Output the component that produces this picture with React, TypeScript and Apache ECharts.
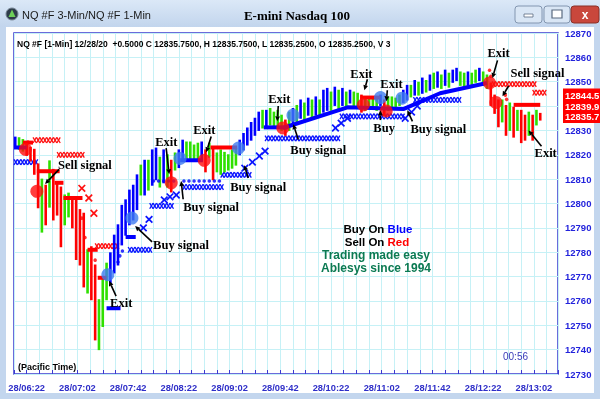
import React, { useEffect, useRef } from 'react';
import * as echarts from 'echarts';

// x values are minutes after 06:12 on 28 Dec 2020
const timeLabels = ['28/06:22', '28/07:02', '28/07:42', '28/08:22', '28/09:02', '28/09:42', '28/10:22', '28/11:02', '28/11:42', '28/12:22', '28/13:02'];
const FIRST_LABEL_MIN = 10;
const LABEL_EVERY_MIN = 40;
const X_MAX = 429;
const Y_MIN = 12730;
const Y_MAX = 12870;

// price bars, one every 3 minutes
const BAR_START = 1;
const BAR_MIN = 3;
const barColor = ('BGGRRRRGRG' + 'RRRGGRRRRG' + 'RRGGGBBBBB' + 'BBBGBGBBGB' + 'GRGBBGGGGB' + 'RGRGGGGGGB' + 'BBBBBGBGGG' + 'GRGBGBGBGB' + 'GBBGBGBGBG' + 'GRGGGGBRGG' + 'GGBBGBGBGB' + 'GBGBGBBGGB' + 'GGBGGRRRGR' + 'GRGRRGRGR').split('');
const barHigh = [
  12827.25, 12827.0, 12826.25, 12824.25, 12823.0, 12822.25, 12816.25, 12810.0, 12807.5, 12817.5,
  12814.0, 12809.0, 12806.75, 12803.5, 12804.25, 12802.75, 12801.5, 12797.5, 12796.0, 12781.0,
  12782.25, 12774.75, 12760.5, 12768.75, 12775.5, 12779.75, 12787.0, 12791.25, 12799.25, 12801.5,
  12805.5, 12807.5, 12811.75, 12815.75, 12817.75, 12817.75, 12822.0, 12822.75, 12819.0, 12822.0,
  12820.0, 12817.75, 12820.75, 12822.0, 12826.0, 12825.25, 12825.25, 12824.0, 12824.75, 12825.25,
  12822.0, 12824.75, 12823.0, 12820.75, 12822.0, 12821.0, 12820.0, 12822.0, 12822.75, 12826.0,
  12828.75, 12831.0, 12833.25, 12835.0, 12837.5, 12838.25, 12838.25, 12839.0, 12837.5, 12838.25,
  12836.25, 12834.25, 12837.5, 12839.0, 12840.25, 12842.5, 12841.25, 12843.25, 12842.5, 12843.75,
  12842.5, 12846.5, 12847.25, 12845.75, 12847.75, 12846.5, 12847.25, 12845.75, 12846.5, 12845.75,
  12845.25, 12844.5, 12843.25, 12843.25, 12843.75, 12843.25, 12844.5, 12842.5, 12843.75, 12843.75,
  12843.25, 12844.5, 12846.5, 12848.5, 12848.5, 12850.5, 12849.75, 12851.5, 12850.5, 12852.75,
  12853.5, 12854.0, 12852.75, 12854.75, 12853.5, 12854.75, 12855.5, 12854.0, 12853.5, 12854.0,
  12853.5, 12854.75, 12855.5, 12854.0, 12852.75, 12849.5, 12844.5, 12842.5, 12842.5, 12840.25,
  12841.25, 12839.5, 12838.25, 12838.25, 12836.25, 12837.5, 12836.25, 12838.25, 12837.0,
];
const barLow = [
  12823.25, 12822.25, 12821.5, 12819.75, 12817.5, 12812.0, 12798.25, 12788.25, 12791.25, 12798.5,
  12793.25, 12795.25, 12782.25, 12791.25, 12794.5, 12790.0, 12777.0, 12774.75, 12765.75, 12763.25,
  12760.5, 12744.0, 12740.0, 12749.5, 12760.5, 12767.5, 12771.5, 12774.75, 12783.0, 12787.0,
  12791.25, 12793.25, 12797.5, 12803.5, 12803.5, 12805.5, 12807.5, 12809.75, 12806.75, 12808.5,
  12806.75, 12804.75, 12813.75, 12814.75, 12817.75, 12817.75, 12818.5, 12817.75, 12817.75, 12817.75,
  12813.0, 12819.0, 12809.75, 12813.0, 12812.0, 12813.0, 12813.75, 12814.5, 12815.75, 12820.0,
  12822.0, 12824.0, 12826.0, 12828.0, 12830.0, 12831.0, 12831.25, 12832.25, 12831.0, 12831.25,
  12830.0, 12828.0, 12830.0, 12832.25, 12833.5, 12835.0, 12834.25, 12836.25, 12835.5, 12836.25,
  12835.5, 12837.5, 12838.25, 12838.25, 12840.25, 12839.0, 12840.25, 12839.5, 12841.25, 12840.25,
  12840.25, 12837.5, 12838.25, 12839.0, 12839.5, 12838.25, 12840.25, 12836.25, 12838.25, 12839.5,
  12839.0, 12840.25, 12841.5, 12842.5, 12843.75, 12844.5, 12844.5, 12845.25, 12845.75, 12846.5,
  12847.25, 12847.75, 12847.25, 12848.5, 12847.75, 12849.75, 12850.5, 12848.5, 12847.25, 12848.5,
  12848.25, 12849.75, 12850.5, 12848.5, 12847.25, 12840.25, 12837.0, 12831.5, 12833.5, 12828.0,
  12830.0, 12827.25, 12830.0, 12825.0, 12826.0, 12828.0, 12826.0, 12832.25, 12834.25,
];

// signal dots [minute, price]
const redSignals = [[9, 12822.25], [18, 12805.0], [124, 12808.5], [150, 12817.75], [212, 12831.0], [275.5, 12840.5], [293.5, 12838.0], [375, 12849.5], [380, 12841.5]];
const blueSignals = [[74, 12770.75], [93, 12794.0], [131, 12818.5], [177, 12822.75], [220, 12836.25], [289, 12843.5], [306, 12843.25]];

// stop levels [fromMinute, toMinute, price]
const blueLevels = [[0, 10, 12823.0], [73, 84, 12757.0], [88, 96, 12786.25], [131, 149, 12817.75], [197, 216, 12831.25]];
const redLevels = [[7, 15, 12825.0], [18, 36, 12813.25], [32, 39, 12808.5], [39, 54, 12802.25], [58, 66, 12781.0], [66, 73, 12769.5], [155, 176, 12823.0], [273, 289, 12843.5], [394, 415, 12840.5]];
const blueBands = [[0, 18, 12817.0], [90, 107, 12781.0], [107, 125, 12799.0], [133, 163, 12806.75], [163, 186, 12811.75], [198, 257, 12826.75], [257, 307, 12835.75], [315, 352, 12842.5]];
const redBands = [[15, 35, 12826.0], [34, 54, 12820.0], [64, 82, 12782.5], [377, 410, 12849.0], [409, 418, 12845.5]];
const blueTrail = [[212, 12831.0], [263, 12839.5], [307, 12838.75], [336, 12845.25], [373, 12849.5]];
const blueCrosses = [[102, 12790.0], [106.5, 12793.5], [118.5, 12801.5], [123, 12802.75], [128, 12803.5], [182, 12814.5], [188, 12817.0], [193.5, 12819.5], [198, 12821.5], [253.5, 12831.0], [258, 12833.0], [263, 12835.0], [308.5, 12835.0], [313.5, 12837.5], [318, 12840.0]];
const redCrosses = [[53.5, 12806.25], [59, 12802.25], [63, 12796.0]];
const blueDots = [[82, 12776.0], [83.5, 12778.5], [85.5, 12780.5], [110, 12809.25], [114, 12809.25], [118, 12809.25], [122, 12809.25], [126, 12809.25], [134, 12809.25], [138, 12809.25], [142, 12809.25], [146, 12809.25], [150, 12809.25], [154, 12809.25], [158, 12809.25], [162, 12809.25]];
const redDots = [[11, 12825.25], [53.5, 12794.0], [56, 12786.0], [64, 12776.75], [375, 12854.75], [376, 12852.25], [387.5, 12844.5], [388.5, 12842.75]];

// annotations: label, text at [minute, price], arrow from [minute, price] to [minute, price]
const noteLabels = ['Sell signal', 'Exit', 'Buy signal', 'Exit', 'Exit', 'Buy signal', 'Buy signal', 'Exit', 'Buy signal', 'Exit', 'Exit', 'Buy', 'Buy signal', 'Exit', 'Sell signal', 'Exit'];
const noteText = [[34.7, 12815.75], [75.8, 12759.25], [109.7, 12783.0], [111.3, 12825.25], [141.3, 12830.0], [133.4, 12798.5], [170.5, 12806.75], [200.5, 12842.75], [217.9, 12822.0], [265.2, 12853.0], [288.9, 12849.0], [283.4, 12831.0], [312.6, 12830.5], [373.4, 12861.75], [391.6, 12853.5], [410.5, 12820.75]];
const noteFrom = [[35.5, 12814.0], [80.5, 12762.0], [108.9, 12784.25], [120.0, 12822.75], [155.5, 12827.5], [133.4, 12801.75], [184.7, 12810.5], [208.4, 12840.0], [224.2, 12826.25], [278.7, 12851.0], [294.4, 12846.5], [288.9, 12834.25], [314.2, 12833.75], [381.3, 12858.75], [390.0, 12848.25], [416.0, 12823.5]];
const noteTo = [[24.5, 12808.0], [75.0, 12768.25], [95.5, 12790.75], [122.4, 12812.0], [151.6, 12821.0], [131.8, 12809.25], [181.6, 12815.75], [207.6, 12833.75], [220.2, 12832.5], [276.3, 12846.5], [293.7, 12842.0], [288.9, 12838.25], [310.2, 12838.25], [377.3, 12851.5], [385.2, 12844.0], [405.8, 12830.0]];

// last prices shown on the price scale (they cover the 12840 scale label)
const lastPrices = [12844.5, 12839.9, 12835.7];
const lastPriceLabels = ['12844.5', '12839.9', '12835.7'];
const hiddenScaleLabels = [12840];

const COLOR: Record<string, string> = { B: '#0000ff', G: '#2fe000', R: '#ff0000' };
const SANS = '"Liberation Sans", Arial, sans-serif';
const SERIF = '"Liberation Serif", "Times New Roman", serif';

const segRender = (color: string, width: number) => (params: any, api: any) => {
  const a = api.coord([api.value(0), api.value(2)]);
  const b = api.coord([api.value(1), api.value(2)]);
  return { type: 'line', shape: { x1: a[0], y1: a[1], x2: b[0], y2: b[1] }, style: { stroke: color, lineWidth: width } };
};

const bandRender = (color: string) => (params: any, api: any) => {
  const a = api.coord([api.value(0), api.value(2)]);
  const b = api.coord([api.value(1), api.value(2)]);
  const h = 2.8;
  const step = 3.4;
  const children: any[] = [];
  for (let x = a[0]; x < b[0] - 0.5; x += step) {
    children.push({ type: 'line', shape: { x1: x, y1: a[1] - h, x2: x + step, y2: a[1] + h }, style: { stroke: color, lineWidth: 1.3 } });
    children.push({ type: 'line', shape: { x1: x, y1: a[1] + h, x2: x + step, y2: a[1] - h }, style: { stroke: color, lineWidth: 1.3 } });
  }
  return { type: 'group', children };
};

const crossRender = (color: string) => (params: any, api: any) => {
  const c = api.coord([api.value(0), api.value(1)]);
  const s = 3.3;
  return {
    type: 'group',
    children: [
      { type: 'line', shape: { x1: c[0] - s, y1: c[1] - s, x2: c[0] + s, y2: c[1] + s }, style: { stroke: color, lineWidth: 1.7 } },
      { type: 'line', shape: { x1: c[0] - s, y1: c[1] + s, x2: c[0] + s, y2: c[1] - s }, style: { stroke: color, lineWidth: 1.7 } },
    ],
  };
};

function buildOption(): any {
  const bars = barHigh.map((h, i) => [BAR_START + i * BAR_MIN, barLow[i], h, i]);
  const notes = noteLabels.map((_, i) => [noteText[i][0], noteText[i][1], noteFrom[i][0], noteFrom[i][1], noteTo[i][0], noteTo[i][1], i]);
  const priceBoxes = lastPrices.map((p, i) => [X_MAX, p, i]);

  const graphic: any[] = [
    { type: 'rect', z: -20, shape: { x: 0, y: 0, width: 600, height: 399 }, style: { fill: '#c3d6ee' } },
    { type: 'rect', z: -19, shape: { x: 6, y: 27, width: 588, height: 366 }, style: { fill: '#ffffff' } },
    {
      type: 'rect', z: -19, shape: { x: 0, y: 0, width: 600, height: 27 },
      style: { fill: new echarts.graphic.LinearGradient(0, 0, 0, 1, [{ offset: 0, color: '#dbe8f7' }, { offset: 1, color: '#c2d5ed' }]) },
    },
    { type: 'circle', z: 5, shape: { cx: 12, cy: 14, r: 6 }, style: { fill: '#2d3b4a', stroke: '#7c8a99', lineWidth: 1 } },
    { type: 'polygon', z: 6, shape: { points: [[12, 9.5], [15.5, 17], [8.5, 17]] }, style: { fill: '#6ecf5a' } },
    { type: 'text', z: 5, x: 22, y: 15, style: { text: 'NQ #F 3-Min/NQ #F 1-Min', font: '11px ' + SANS, fill: '#1a1a1a', verticalAlign: 'middle' } },
    { type: 'text', z: 5, x: 297, y: 15, style: { text: 'E-mini Nasdaq 100', font: 'bold 13px ' + SERIF, fill: '#000', align: 'center', verticalAlign: 'middle' } },
    { type: 'rect', z: 5, shape: { x: 515, y: 6, width: 27, height: 17, r: 3 }, style: { fill: '#d9e6f5', stroke: '#8396b0', lineWidth: 1 } },
    { type: 'rect', z: 6, shape: { x: 524, y: 14, width: 9, height: 3 }, style: { fill: '#ffffff', stroke: '#5a6b80', lineWidth: 0.8 } },
    { type: 'rect', z: 5, shape: { x: 544, y: 6, width: 26, height: 17, r: 3 }, style: { fill: '#d9e6f5', stroke: '#8396b0', lineWidth: 1 } },
    { type: 'rect', z: 6, shape: { x: 552, y: 10, width: 10, height: 8 }, style: { fill: '#ffffff', stroke: '#5a6b80', lineWidth: 1.2 } },
    { type: 'rect', z: 5, shape: { x: 571, y: 6, width: 28, height: 17, r: 3 }, style: { fill: '#c9473c', stroke: '#8a3027', lineWidth: 1 } },
    { type: 'text', z: 6, x: 585, y: 14.5, style: { text: 'x', font: 'bold 12px ' + SANS, fill: '#fff', align: 'center', verticalAlign: 'middle' } },
    { type: 'text', z: 5, x: 17, y: 44, style: { text: 'NQ #F [1-Min] 12/28/20  +0.5000 C 12835.7500, H 12835.7500, L 12835.2500, O 12835.2500, V 3', font: 'bold 8.5px ' + SANS, fill: '#000', verticalAlign: 'middle' } },
    { type: 'text', z: 5, x: 18, y: 367, style: { text: '(Pacific Time)', font: 'bold 9px ' + SANS, fill: '#000', verticalAlign: 'middle' } },
    { type: 'text', z: 5, x: 503, y: 356, style: { text: '00:56', font: '10px ' + SANS, fill: '#3a3ab8', verticalAlign: 'middle' } },
    {
      type: 'text', z: 5, x: 378, y: 229,
      style: { text: '{k|Buy On }{b|Blue}', align: 'center', verticalAlign: 'middle', rich: { k: { font: 'bold 11.5px ' + SANS, fill: '#000' }, b: { font: 'bold 11.5px ' + SANS, fill: '#0000ff' } } },
    },
    {
      type: 'text', z: 5, x: 377, y: 242,
      style: { text: '{k|Sell On }{r|Red}', align: 'center', verticalAlign: 'middle', rich: { k: { font: 'bold 11.5px ' + SANS, fill: '#000' }, r: { font: 'bold 11.5px ' + SANS, fill: '#ff0000' } } },
    },
    { type: 'text', z: 5, x: 376, y: 255, style: { text: 'Trading made easy', font: 'bold 12px ' + SANS, fill: '#0b7a52', align: 'center', verticalAlign: 'middle' } },
    { type: 'text', z: 5, x: 376, y: 268, style: { text: 'Ablesys since 1994', font: 'bold 12px ' + SANS, fill: '#0b7a52', align: 'center', verticalAlign: 'middle' } },
  ];

  return {
    animation: false,
    graphic,
    grid: { left: 14, right: 42, top: 33, bottom: 25, show: true, borderColor: '#3b3bd0', borderWidth: 1.5, backgroundColor: 'transparent' },
    xAxis: {
      type: 'value', min: 0, max: X_MAX, interval: 10,
      axisLine: { show: false },
      axisTick: { show: true, inside: true, length: 4, lineStyle: { color: '#3b3bd0', width: 1 } },
      splitLine: { show: true, lineStyle: { color: '#c6f1f6', width: 1 } },
      axisLabel: {
        margin: 9, color: '#2e2ec8', fontSize: 9.3, fontWeight: 'bold', fontFamily: SANS, showMinLabel: true, showMaxLabel: true,
        formatter: (v: number) => {
          const k = (v - FIRST_LABEL_MIN) / LABEL_EVERY_MIN;
          return Number.isInteger(k) && timeLabels[k] ? timeLabels[k] : '';
        },
      },
    },
    yAxis: {
      type: 'value', position: 'right', min: Y_MIN, max: Y_MAX, interval: 10,
      axisLine: { show: false }, axisTick: { show: false },
      splitLine: { show: true, lineStyle: { color: '#c6f1f6', width: 1 } },
      axisLabel: {
        margin: 7, color: '#2323dc', fontSize: 9.5, fontWeight: 'bold', fontFamily: SANS,
        formatter: (v: number) => (hiddenScaleLabels.indexOf(v) >= 0 ? '' : String(v)),
      },
    },
    series: [
      { type: 'custom', name: 'blueBands', data: blueBands, encode: { x: [0, 1], y: 2 }, renderItem: bandRender('#0a14ff'), z: 2 },
      { type: 'custom', name: 'redBands', data: redBands, encode: { x: [0, 1], y: 2 }, renderItem: bandRender('#ff1010'), z: 2 },
      {
        type: 'custom', name: 'bars', data: bars, encode: { x: 0, y: [1, 2] }, z: 3,
        renderItem: (params: any, api: any) => {
          const t = api.value(0);
          const a = api.coord([t, api.value(1)]);
          const b = api.coord([t, api.value(2)]);
          const c = COLOR[barColor[api.value(3)]];
          return { type: 'line', shape: { x1: a[0], y1: a[1] + 0.5, x2: b[0], y2: b[1] - 0.5 }, style: { stroke: c, lineWidth: 2.6 } };
        },
      },
      { type: 'line', name: 'blueTrail', data: blueTrail, showSymbol: false, lineStyle: { color: '#0000ff', width: 4 }, z: 4 },
      { type: 'custom', name: 'blueLevels', data: blueLevels, encode: { x: [0, 1], y: 2 }, renderItem: segRender('#0000ff', 4), z: 4 },
      { type: 'custom', name: 'redLevels', data: redLevels, encode: { x: [0, 1], y: 2 }, renderItem: segRender('#ff0000', 4), z: 4 },
      { type: 'custom', name: 'blueCrosses', data: blueCrosses, encode: { x: 0, y: 1 }, renderItem: crossRender('#0a14ff'), z: 4 },
      { type: 'custom', name: 'redCrosses', data: redCrosses, encode: { x: 0, y: 1 }, renderItem: crossRender('#ff1010'), z: 4 },
      { type: 'scatter', name: 'blueDots', data: blueDots, symbolSize: 3.5, itemStyle: { color: '#0000ff' }, z: 4 },
      { type: 'scatter', name: 'redDots', data: redDots, symbolSize: 3.5, itemStyle: { color: '#ff0000' }, z: 4 },
      { type: 'scatter', name: 'redSignals', data: redSignals, symbolSize: 13, itemStyle: { color: '#ff0d0d' }, z: 5 },
      { type: 'scatter', name: 'blueSignals', data: blueSignals, symbolSize: 13, itemStyle: { color: '#3f7cf0' }, z: 5 },
      {
        type: 'custom', name: 'notes', data: notes, encode: { x: 0, y: 1 }, z: 6, clip: false,
        renderItem: (params: any, api: any) => {
          const tp = api.coord([api.value(0), api.value(1)]);
          const f = api.coord([api.value(2), api.value(3)]);
          const a = api.coord([api.value(4), api.value(5)]);
          const ang = Math.atan2(a[1] - f[1], a[0] - f[0]);
          const L = 5, W = 2.4;
          const bx = a[0] - L * Math.cos(ang), by = a[1] - L * Math.sin(ang);
          return {
            type: 'group',
            children: [
              { type: 'line', shape: { x1: f[0], y1: f[1], x2: bx, y2: by }, style: { stroke: '#000', lineWidth: 1.6 } },
              { type: 'polygon', shape: { points: [[a[0], a[1]], [bx + W * Math.sin(ang), by - W * Math.cos(ang)], [bx - W * Math.sin(ang), by + W * Math.cos(ang)]] }, style: { fill: '#000' } },
              { type: 'text', x: tp[0], y: tp[1], style: { text: noteLabels[api.value(6)], font: 'bold 12.5px ' + SERIF, fill: '#000', align: 'left', verticalAlign: 'middle' } },
            ],
          };
        },
      },
      {
        type: 'custom', name: 'lastPrices', data: priceBoxes, encode: { x: 0, y: 1 }, z: 6, clip: false,
        renderItem: (params: any, api: any) => {
          const cs = params.coordSys;
          const y = api.coord([api.value(0), api.value(1)])[1];
          const x0 = cs.x + cs.width + 5;
          return {
            type: 'group',
            children: [
              { type: 'rect', shape: { x: x0, y: y - 6.5, width: 600 - x0, height: 13 }, style: { fill: '#ff0000' } },
              { type: 'text', x: x0 + 2, y, style: { text: lastPriceLabels[api.value(2)], font: 'bold 9.5px ' + SANS, fill: '#ffffff', align: 'left', verticalAlign: 'middle' } },
            ],
          };
        },
      },
    ],
  };
}

export default function App() {
  const ref = useRef<HTMLDivElement>(null);
  useEffect(() => {
    if (!ref.current) return;
    const chart = echarts.init(ref.current, undefined, { renderer: 'svg' });
    chart.setOption(buildOption());
    return () => chart.dispose();
  }, []);
  return <div ref={ref} style={{ position: 'fixed', left: 0, top: 0, width: 600, height: 399 }} />;
}
